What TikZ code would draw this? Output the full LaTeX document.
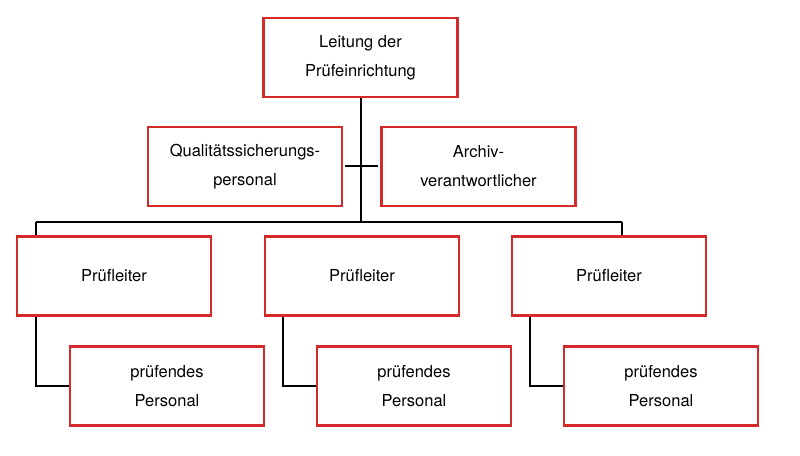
\documentclass[tikz,border=0pt]{standalone}
\usepackage{fontspec}
\setmainfont{TeX Gyre Heros}
\definecolor{boxred}{HTML}{D42A2A}
\begin{document}
\begin{tikzpicture}[x=1pt,y=-1pt,
 box/.style={draw=boxred,line width=2.4pt,fill=white,minimum width=194pt,minimum height=79pt,align=center,inner sep=0pt,font=\fontsize{16.5}{29}\selectfont},
 conn/.style={line width=2pt,black}]
\useasboundingbox (0,0) rectangle (800,455);
\coordinate (hl) at (36,222);
\coordinate (hr) at (622,222);
\coordinate (hm) at (361,222);
\draw[conn] (361,58) -- (hm);
\draw[conn] (hl) -- (hr);
\draw[conn] (hl) -- (36,276);
\draw[conn] (hr) -- (622,276);
\draw[conn] (345,166) -- (378,166);
\draw[conn] (36,276) |- (167,386);
\draw[conn] (283,276) |- (414,386);
\draw[conn] (530,276) |- (661,386);
\node[box] (top) at (360.5,57.5) {Leitung der\\Prüfeinrichtung};
\node[box] (q) at (245,166.5) {Qualitätssicherungs-\\personal};
\node[box] (a) at (478.5,166.5) {Archiv-\\verantwortlicher};
\node[box] (p1) at (114,276) {Prüfleiter};
\node[box] (p2) at (362,276) {Prüfleiter};
\node[box] (p3) at (609,276) {Prüfleiter};
\node[box] (s1) at (167,386) {prüfendes\\Personal};
\node[box] (s2) at (414,386) {prüfendes\\Personal};
\node[box] (s3) at (661,386) {prüfendes\\Personal};
\end{tikzpicture}
\end{document}
